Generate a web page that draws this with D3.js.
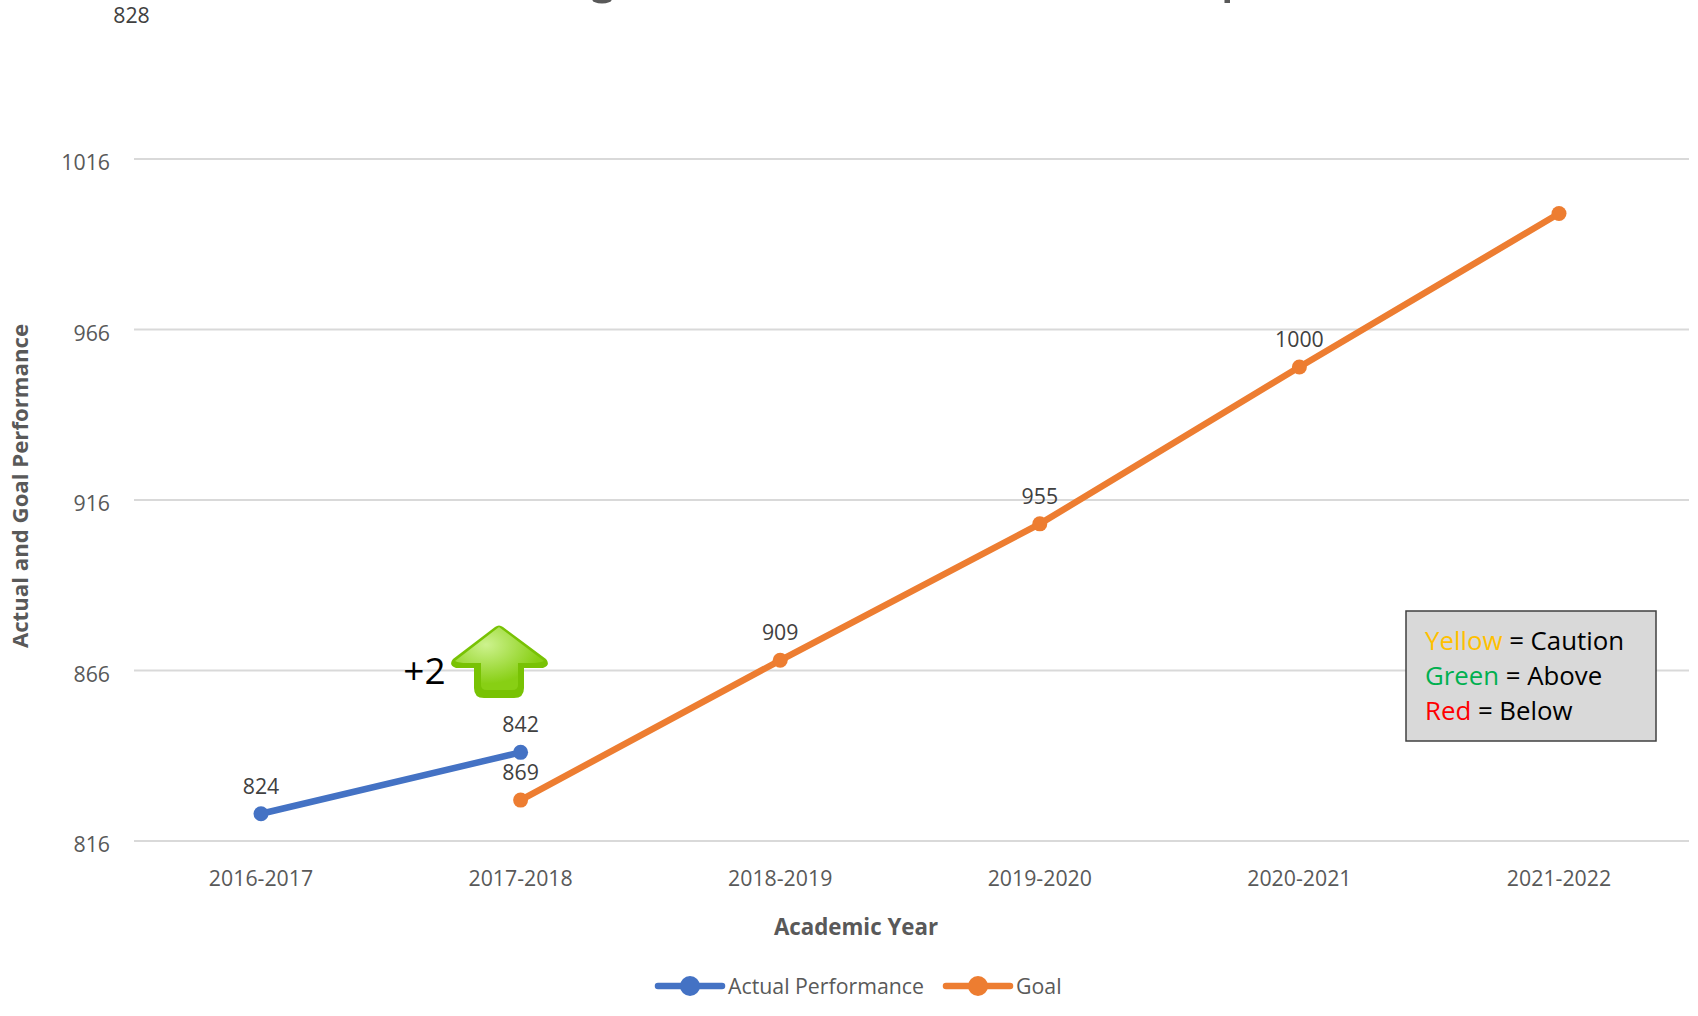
<!DOCTYPE html>
<html><head><meta charset="utf-8">
<script src="https://cdn.jsdelivr.net/npm/d3@7"></script>
<style>html,body{margin:0;padding:0;background:#fff;overflow:hidden}svg{display:block}text{font-family:"Open Sans","Noto Sans",sans-serif}</style>
</head><body>
<svg id="c" width="1698" height="1016"></svg>
<script>
const categories=["2016-2017","2017-2018","2018-2019","2019-2020","2020-2021","2021-2022"];
const yTicks=[816,866,916,966,1016];
const actual=[824,842];
const goal=[null,828,869,909,955,1000];
const goalLabels=[null,"869","909","955","1000",null];
const actualLabels=["824","842"];
const strayLabel="828";
const svg=d3.select("#c");
const x=d3.scalePoint().domain(categories).range([261,1559]);
const y=d3.scaleLinear().domain([816,1016]).range([841,159]);
const grey="#595959";
const fs=21.3;
// remnants of the title cut off by the top edge
svg.append("ellipse").attr("cx",602).attr("cy",-1).attr("rx",10).attr("ry",4.5).attr("fill",grey);
svg.append("rect").attr("x",1224.5).attr("y",0).attr("width",5.5).attr("height",3).attr("fill",grey);
svg.append("g").selectAll("line").data(yTicks).join("line")
 .attr("x1",134).attr("x2",1689).attr("y1",d=>y(d)).attr("y2",d=>y(d))
 .attr("stroke","#d9d9d9").attr("stroke-width",2);
svg.append("g").selectAll("text").data(yTicks).join("text")
 .attr("x",110).attr("y",d=>y(d)+11).attr("text-anchor","end").attr("font-size",fs).attr("fill",grey).text(d=>d);
svg.append("g").selectAll("text").data(categories).join("text")
 .attr("x",d=>x(d)).attr("y",886).attr("text-anchor","middle").attr("font-size",fs).attr("fill",grey).text(d=>d);
svg.append("text").attr("x",856).attr("y",935).attr("text-anchor","middle").attr("font-size",22.3).attr("font-weight",700).attr("fill",grey).text("Academic Year");
svg.append("text").attr("transform","translate(28,486) rotate(-90)").attr("text-anchor","middle").attr("font-size",22.2).attr("font-weight",700).attr("fill",grey).text("Actual and Goal Performance");
const line=d3.line().defined(d=>d!=null).x((d,i)=>x(categories[i])).y(d=>y(d));
function series(vals,col){
 svg.append("path").attr("d",line(vals)).attr("fill","none").attr("stroke",col).attr("stroke-width",6.5).attr("stroke-linecap","round");
 svg.append("g").selectAll("circle").data(vals.map((v,i)=>({v,i})).filter(d=>d.v!=null)).join("circle")
  .attr("cx",d=>x(categories[d.i])).attr("cy",d=>y(d.v)).attr("r",7.5).attr("fill",col);
}
series(actual,"#4472c4");
series(goal,"#ed7d31");
const lab="#404040";
actualLabels.forEach((t,i)=>svg.append("text").attr("x",x(categories[i])).attr("y",y(actual[i])-20).attr("text-anchor","middle").attr("font-size",fs).attr("fill",lab).text(t));
goalLabels.forEach((t,i)=>{if(t)svg.append("text").attr("x",x(categories[i])).attr("y",y(goal[i])-20).attr("text-anchor","middle").attr("font-size",fs).attr("fill",lab).text(t)});
svg.append("text").attr("x",131.5).attr("y",23).attr("text-anchor","middle").attr("font-size",fs).attr("fill",lab).text(strayLabel);
// arrow annotation
const defs=svg.append("defs");
const g1=defs.append("radialGradient").attr("id","ag").attr("cx","0.35").attr("cy","0.28").attr("r","0.62");
g1.append("stop").attr("offset","0").attr("stop-color","#cdf28e");
g1.append("stop").attr("offset","1").attr("stop-color","#88cf14");
const ar=svg.append("g").attr("transform","translate(451,625)");
ar.append("path").attr("d","M44,2 Q48,-1 52,2 L95,34 Q100,40 92,43 L73,43 L73,63 Q73,73 63,73 L33,73 Q23,73 23,63 L23,43 L5,43 Q-3,40 2,34 Z").attr("fill","#78c204");
ar.append("path").attr("d","M48,2 L93,36 Q88,38 80,38 L67,38 L67,60 Q67,65 61,65 L36,65 Q30,65 30,60 L30,38 L16,38 Q8,38 4,36 Z").attr("fill","url(#ag)");
svg.append("text").attr("x",424.5).attr("y",684).attr("text-anchor","middle").attr("font-size",37).attr("font-family","Noto Sans").attr("fill","#000").text("+2");
// key box
svg.append("rect").attr("x",1406).attr("y",611).attr("width",250).attr("height",130).attr("fill","#d9d9d9").attr("stroke","#404040").attr("stroke-width",1.5);
const keyRows=[["Yellow","#ffc000"," = Caution"],["Green","#00b050"," = Above"],["Red","#ff0000"," = Below"]];
keyRows.forEach((r,i)=>{const t=svg.append("text").attr("x",1425).attr("y",649.5+i*35).attr("font-size",25.8).attr("font-family","Lato").style("white-space","pre");
 t.append("tspan").attr("fill",r[1]).text(r[0]);t.append("tspan").attr("fill","#000").text(r[2]);});
// legend
const legend=[["Actual Performance","#4472c4",656,728],["Goal","#ed7d31",944,1016]];
legend.forEach(l=>{svg.append("line").attr("x1",658).attr("x2",722).attr("y1",986).attr("y2",986).attr("transform",`translate(${l[2]-656},0)`).attr("stroke",l[1]).attr("stroke-width",6.5).attr("stroke-linecap","round");
 svg.append("circle").attr("cx",l[2]+34).attr("cy",986).attr("r",10).attr("fill",l[1]);
 svg.append("text").attr("x",l[3]).attr("y",993.5).attr("font-size",fs).attr("fill",grey).text(l[0]);});
</script>
</body></html>
